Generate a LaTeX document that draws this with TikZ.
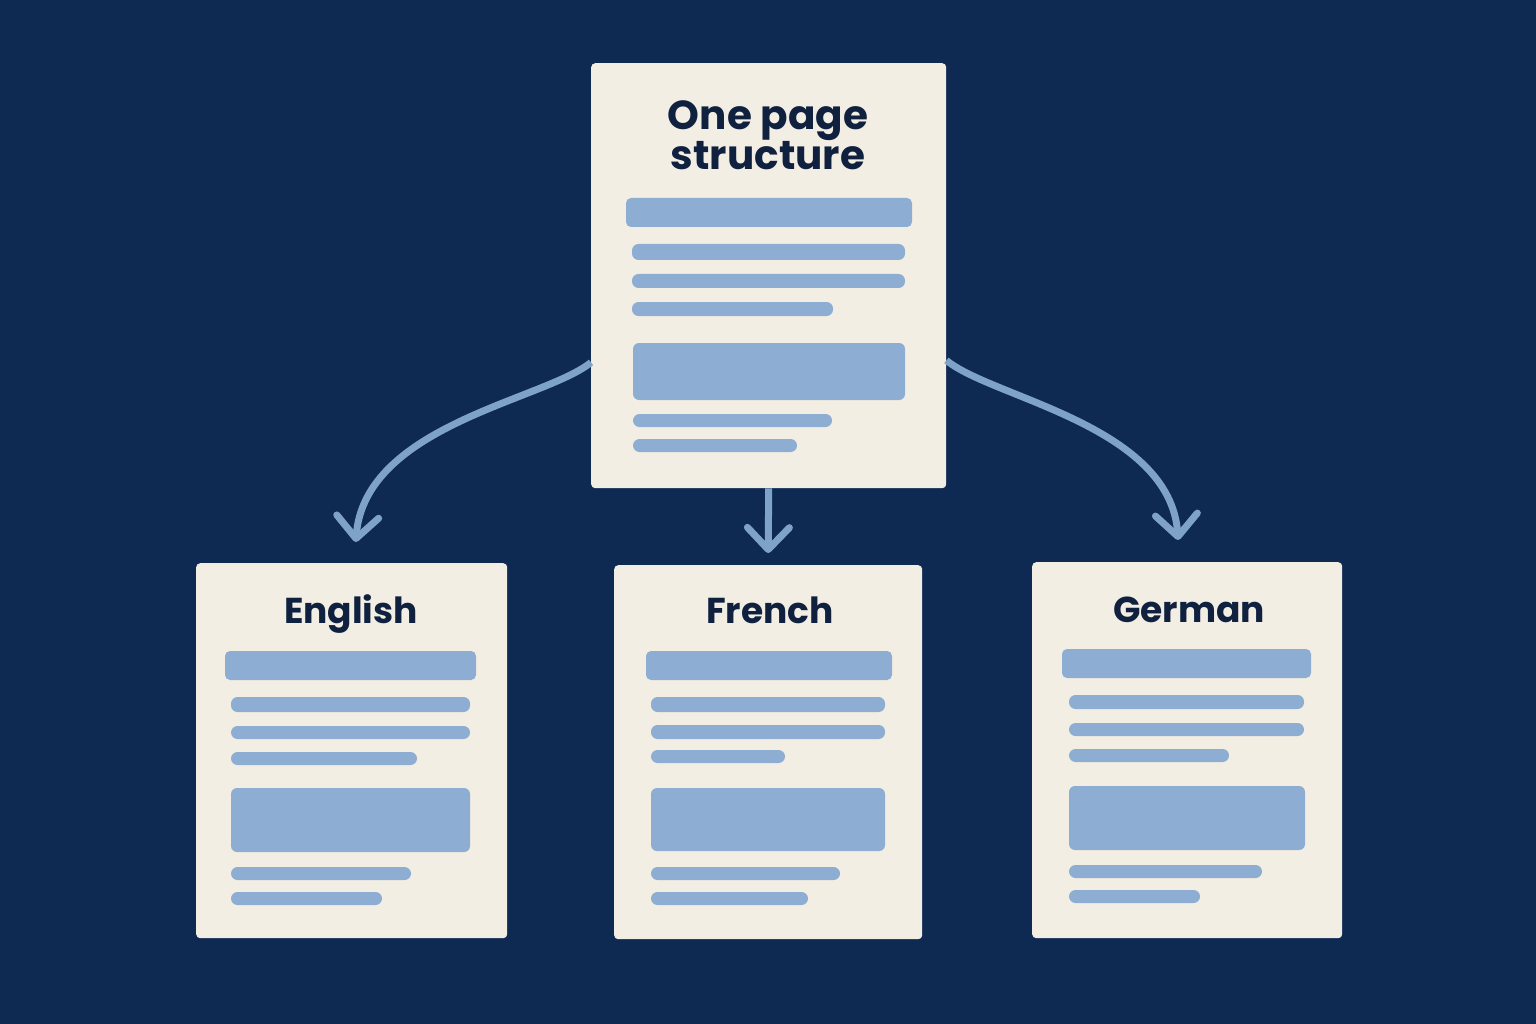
\documentclass[tikz,border=0pt]{standalone}
\usepackage{fontspec}
\setmainfont{Poppins}
\usetikzlibrary{arrows.meta,calc}
\definecolor{bg}{HTML}{0F2A52}
\definecolor{paper}{HTML}{F3EEE3}
\definecolor{barc}{HTML}{8DADD2}
\definecolor{arrc}{HTML}{7FA2C8}
\definecolor{ink}{HTML}{10213F}
\begin{document}
\begin{tikzpicture}[x=1pt,y=-1pt,
  pagebox/.style={fill=paper, rounded corners=4pt, inner sep=0pt, anchor=north west},
  bigtitle/.style={text=ink, font=\fontsize{40.5}{40}\selectfont\bfseries, align=center, anchor=north, inner sep=0pt},
  title/.style={text=ink, font=\fontsize{36}{40}\selectfont\bfseries, anchor=base, inner sep=0pt},
  thick bar/.style={fill=barc, rounded corners=5pt},
  thin bar/.style={fill=barc, rounded corners=6.5pt},
  block/.style={fill=barc, rounded corners=6pt},
  flow/.style={draw=arrc, line width=7pt, -{Straight Barb[length=22pt,width=42pt,round]}}
]
\fill[bg] (0,0) rectangle (1536,1024);
\useasboundingbox (0,0) rectangle (1536,1024);

% pages
\node[pagebox, minimum width=355pt, minimum height=425pt] (top) at (591,63) {};
\node[pagebox, minimum width=311pt, minimum height=375pt] (en) at (196,563) {};
\node[pagebox, minimum width=308pt, minimum height=374pt] (fr) at (614,565) {};
\node[pagebox, minimum width=310pt, minimum height=376pt] (de) at (1032,562) {};

% top page content
\node[bigtitle] (t1) at (768,100) {One page\\structure};
\fill[thick bar] (626,198) rectangle (912,227);
\fill[thin bar] (632,244) rectangle (905,260);
\fill[thin bar] (632,274) rectangle (905,288);
\fill[thin bar] (632,302) rectangle (833,316);
\fill[block] (633,343) rectangle (905,400);
\fill[thin bar] (633,414) rectangle (832,427);
\fill[thin bar] (633,439) rectangle (797,452);

% English
\node[title] (ten) at (351,623) {English};
\fill[thick bar] (225,651) rectangle (476,680);
\fill[thin bar] (231,697) rectangle (470,712);
\fill[thin bar] (231,726) rectangle (470,739);
\fill[thin bar] (231,752) rectangle (417,765);
\fill[block] (231,788) rectangle (470,852);
\fill[thin bar] (231,867) rectangle (411,880);
\fill[thin bar] (231,892) rectangle (382,905);

% French
\node[title] (tfr) at (770,623) {French};
\fill[thick bar] (646,651) rectangle (892,680);
\fill[thin bar] (651,697) rectangle (885,712);
\fill[thin bar] (651,725) rectangle (885,739);
\fill[thin bar] (651,750) rectangle (785,763);
\fill[block] (651,788) rectangle (885,851);
\fill[thin bar] (651,867) rectangle (840,880);
\fill[thin bar] (651,892) rectangle (808,905);

% German
\node[title] (tde) at (1189,622) {German};
\fill[thick bar] (1062,649) rectangle (1311,678);
\fill[thin bar] (1069,695) rectangle (1304,709);
\fill[thin bar] (1069,723) rectangle (1304,736);
\fill[thin bar] (1069,749) rectangle (1229,762);
\fill[block] (1069,786) rectangle (1305,850);
\fill[thin bar] (1069,865) rectangle (1262,878);
\fill[thin bar] (1069,890) rectangle (1200,903);

% connectors
\draw[flow] ([yshift=126pt]top.south west) .. controls (545,400) and (365,425) .. ($(en.north)+(4,-21)$);
\draw[flow] (top.south) -- ($(fr.north)+(0,-12)$);
\draw[flow] ([yshift=128pt]top.south east) .. controls (992,398) and (1170,425) .. ($(de.north)+(-9,-22)$);
\end{tikzpicture}
\end{document}
